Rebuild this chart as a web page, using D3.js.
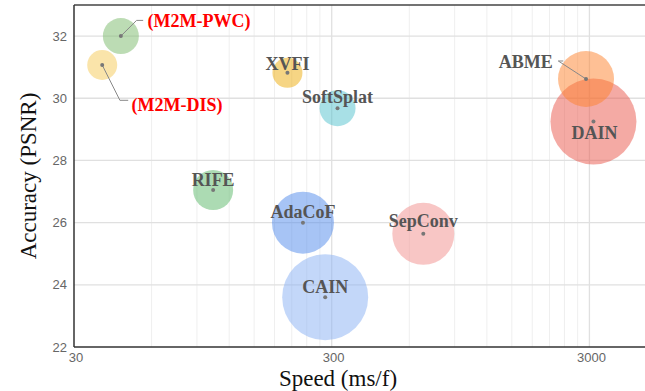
<!DOCTYPE html>
<html>
<head>
<meta charset="utf-8">
<script src="https://cdn.jsdelivr.net/npm/d3@7"></script>
<style>
  html, body { margin: 0; padding: 0; background: #fff; }
  svg { display: block; }
</style>
</head>
<body>
<svg id="chart"></svg>
<script>
// methods, speed (ms/frame), PSNR, bubble size (area units)
const methods = ["DAIN", "CAIN", "ABME", "SepConv", "AdaCoF", "RIFE", "SoftSplat", "XVFI", "M2M-PWC", "M2M-DIS"];
const speed   = [3110, 283, 2910, 680, 232, 104, 316, 202, 45.6, 38.6];
const psnr    = [29.25, 23.6, 30.62, 25.64, 26.0, 27.05, 29.68, 30.82, 32.0, 31.07];
const size    = [1849, 1849, 784, 961, 961, 400, 324, 225, 324, 225];
const colors  = ["#e95549", "#87aff3", "#fd812b", "#f18d8b", "#4f89eb", "#59b767", "#51c1cd", "#edab09", "#79b969", "#f5c955"];

const xTicks = [30, 300, 3000];
const yTicks = [22, 24, 26, 28, 30, 32];

const width = 645, height = 391;
const margin = { left: 74, top: 5, bottom: 44 };

const svg = d3.select("#chart")
    .attr("width", width)
    .attr("height", height);

const x = d3.scaleLog().domain([30, 5000]).range([margin.left, 646.6]);
const y = d3.scaleLinear().domain([22, 33]).range([height - margin.bottom, margin.top]);
const r = d3.scaleSqrt().domain([0, 1849]).range([0, 43]);

// label placement relative to each bubble center
const labelPos = {
    "DAIN":      { dx: 1,  dy: 11,   anchor: "middle" },
    "CAIN":      { dx: 0,  dy: -10.6, anchor: "middle" },
    "ABME":      { dx: -33.3, dy: -17, anchor: "end", leader: [[-27.7, -18], [-22.7, -18]] },
    "SepConv":   { dx: 0,  dy: -13,  anchor: "middle" },
    "AdaCoF":    { dx: 0,  dy: -10.5, anchor: "middle" },
    "RIFE":      { dx: 0,  dy: -10,  anchor: "middle" },
    "SoftSplat": { dx: 0,  dy: -11.5, anchor: "middle" },
    "XVFI":      { dx: 0,  dy: -9.5, anchor: "middle" },
    "M2M-PWC":   { dx: 26.7, dy: -15, anchor: "start", red: true, leader: [[15.7, -15.7], [22.3, -15.7]] },
    "M2M-DIS":   { dx: 29.4, dy: 39.3, anchor: "start", red: true, leader: [[17.7, 35.3], [26, 35.3]] }
};

const x0 = margin.left, x1 = width, yb = y(22), yt = margin.top;

// grid
const grid = svg.append("g");
const minorX = [];
[30, 300, 3000].forEach(base => {
    for (let k = 2; k <= 9; k++) minorX.push(base * k);
});
grid.selectAll("line.minor")
    .data(minorX.filter(v => v < 5000))
    .enter().append("line")
    .attr("x1", d => x(d)).attr("x2", d => x(d))
    .attr("y1", yt).attr("y2", yb)
    .attr("stroke", "#efefef").attr("stroke-width", 1);
grid.selectAll("line.majx")
    .data([300, 3000])
    .enter().append("line")
    .attr("x1", d => x(d)).attr("x2", d => x(d))
    .attr("y1", yt).attr("y2", yb)
    .attr("stroke", "#e0e0e0").attr("stroke-width", 1.3);
grid.selectAll("line.majy")
    .data(yTicks.slice(1))
    .enter().append("line")
    .attr("x1", x0).attr("x2", x1)
    .attr("y1", d => y(d)).attr("y2", d => y(d))
    .attr("stroke", "#e0e0e0").attr("stroke-width", 1.3);

// bubbles
const rows = methods.map((m, i) => ({ name: m, speed: speed[i], psnr: psnr[i], size: size[i], color: colors[i] }));

svg.append("g").selectAll("circle")
    .data(rows)
    .enter().append("circle")
    .attr("cx", d => x(d.speed))
    .attr("cy", d => y(d.psnr))
    .attr("r", d => r(d.size))
    .attr("fill", d => d.color)
    .attr("fill-opacity", 0.5);

// leader lines
svg.append("g").selectAll("polyline")
    .data(rows.filter(d => labelPos[d.name].leader))
    .enter().append("polyline")
    .attr("points", d => {
        const cx = x(d.speed), cy = y(d.psnr);
        const pts = [[cx, cy]].concat(labelPos[d.name].leader.map(p => [cx + p[0], cy + p[1]]));
        return pts.map(p => p.join(",")).join(" ");
    })
    .attr("fill", "none")
    .attr("stroke", "#888")
    .attr("stroke-width", 1);

// center dots
svg.append("g").selectAll("circle")
    .data(rows)
    .enter().append("circle")
    .attr("cx", d => x(d.speed))
    .attr("cy", d => y(d.psnr))
    .attr("r", 2)
    .attr("fill", "#777");

// labels
svg.append("g").selectAll("text")
    .data(rows)
    .enter().append("text")
    .attr("x", d => x(d.speed) + labelPos[d.name].dx)
    .attr("y", d => y(d.psnr) + labelPos[d.name].dy)
    .attr("dy", "0.35em")
    .attr("text-anchor", d => labelPos[d.name].anchor)
    .attr("font-family", "Liberation Serif, Times New Roman, serif")
    .attr("font-weight", "bold")
    .attr("font-size", "18px")
    .attr("fill", d => labelPos[d.name].red ? "#ff0000" : "#555")
    .text(d => labelPos[d.name].red ? "(" + d.name + ")" : d.name);

// axes frame
svg.append("line").attr("x1", x0).attr("x2", x1).attr("y1", yt).attr("y2", yt)
    .attr("stroke", "#444").attr("stroke-width", 1.3);
svg.append("line").attr("x1", x0).attr("x2", x1).attr("y1", yb).attr("y2", yb)
    .attr("stroke", "#333").attr("stroke-width", 1.5);
svg.append("line").attr("x1", x0).attr("x2", x0).attr("y1", yt).attr("y2", yb)
    .attr("stroke", "#333").attr("stroke-width", 1.5);

// tick labels
svg.append("g").selectAll("text")
    .data(yTicks)
    .enter().append("text")
    .attr("x", 67)
    .attr("y", d => y(d))
    .attr("dy", "0.35em")
    .attr("text-anchor", "end")
    .attr("font-family", "Liberation Sans, Arial, sans-serif")
    .attr("font-size", "13px")
    .attr("fill", "#666")
    .text(d => d);

svg.append("g").selectAll("text")
    .data(xTicks)
    .enter().append("text")
    .attr("x", d => x(d) + 2)
    .attr("y", 357)
    .attr("dy", "0.35em")
    .attr("text-anchor", "middle")
    .attr("font-family", "Liberation Sans, Arial, sans-serif")
    .attr("font-size", "13px")
    .attr("fill", "#666")
    .text(d => d);

// axis titles
svg.append("text")
    .attr("x", 338)
    .attr("y", 378)
    .attr("dy", "0.35em")
    .attr("text-anchor", "middle")
    .attr("font-family", "Liberation Serif, Times New Roman, serif")
    .attr("font-size", "23px")
    .attr("fill", "#111")
    .text("Speed (ms/f)");

svg.append("text")
    .attr("transform", "translate(28,176) rotate(-90)")
    .attr("dy", "0.35em")
    .attr("text-anchor", "middle")
    .attr("font-family", "Liberation Serif, Times New Roman, serif")
    .attr("font-size", "23px")
    .attr("fill", "#111")
    .text("Accuracy (PSNR)");
</script>
</body>
</html>
